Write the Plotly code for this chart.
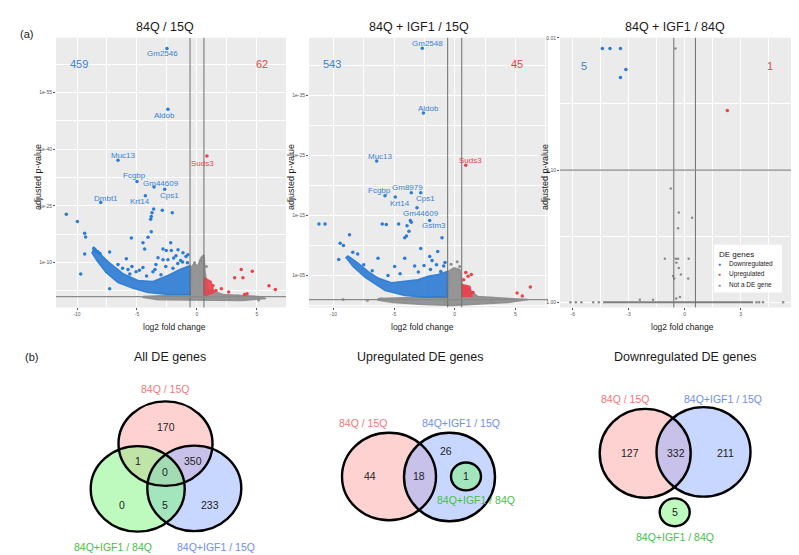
import plotly.graph_objects as go

FONT = "Liberation Sans, Arial, Helvetica, sans-serif"
BLUE = "#2C7BD4"
RED = "#E8434B"
GRAY = "#8C8C8C"
LBL_BLUE = "#3A82D6"

# ---------------- volcano data ----------------
panel_titles = ["84Q / 15Q", "84Q + IGF1 / 15Q", "84Q + IGF1 / 84Q"]
n_down = [459, 543, 5]
n_up = [62, 45, 1]
log2fc_cutoffs = [-0.58, 0.58]
nlp_cutoff = 1.0  # -log10(padj) = 1  ->  padj = 0.1

# Panel 1 (84Q / 15Q) labelled genes: log2 fold change, -log10 adjusted p
p1_genes = ["Gm2546", "Aldob", "Muc13", "Suds3", "Fcgbp", "Gm44609", "Cps1", "Krt14", "Dmbt1"]
p1_gene_lfc = [-2.5, -2.42, -6.58, 0.83, -5.0, -3.58, -2.69, -4.3, -8.02]
p1_gene_nlp = [66.7, 50.6, 37.1, 38.2, 31.5, 30.0, 29.4, 27.7, 25.9]
p1_gene_dir = ["down", "down", "down", "up", "down", "down", "down", "down", "down"]

p1_down = [(-10.89, 22.8), (-9.97, 20.9), (-9.36, 17.8), (-9.28, 16.8), (-9.36, 12.3), (-9.69, 7.0),
           (-7.28, 12.8), (-8.48, 13.4), (-8.25, 12.9), (-8.08, 12.4), (-8.4, 13.0), (-8.6, 13.8),
           (-5.89, 11.0), (-5.47, 16.5), (-4.5, 15.3), (-4.08, 16.7), (-4.36, 13.6), (-3.75, 23.2),
           (-3.81, 22.2), (-3.86, 21.5), (-3.61, 24.2), (-2.89, 23.9), (-2.06, 23.2), (-3.81, 18.2),
           (-2.19, 15.3), (-2.83, 13.6), (-2.56, 13.2), (-2.14, 13.2), (-1.94, 11.2), (-1.36, 10.6),
           (-5.42, 9.0), (-7.28, 3.1), (-6.58, 9.5), (-5.08, 7.6), (-4.5, 8.7), (-3.42, 9.5),
           (-2.83, 10.8), (-1.75, 11.8), (-1.17, 12.6), (-0.92, 11.6), (-3.67, 7.6), (-5.75, 8.2),
           (-2.42, 10.8), (-3.25, 11.3), (-1.58, 13.4), (-0.75, 12.1), (-6.2, 8.5), (-5.6, 7.0),
           (-4.8, 8.0), (-4.2, 6.5), (-3.5, 8.2), (-3.0, 6.8), (-2.6, 9.0), (-2.0, 8.5),
           (-1.6, 9.8), (-1.2, 10.2), (-0.8, 10.0)]
p1_up = [(3.69, 8.2), (4.61, 7.7), (3.83, 6.0), (3.14, 6.0), (6.0, 3.9), (6.53, 2.9), (2.03, 3.1),
         (2.64, 2.2), (3.97, 1.6), (4.17, 1.8), (1.58, 2.6), (1.33, 3.9)]
p1_ns = [(0.78, 9.0), (5.14, 0.1), (3.42, 1.2), (0.3, 10.5), (-0.2, 10.0)]
# dense point clouds (outline of the overplotted region)
p1_ns_cloud = [(-4.5, 1.05), (-2.42, 1.3), (-0.58, 1.6), (-0.5, 8.7), (-0.25, 9.7), (0.08, 9.2),
               (0.33, 11.3), (0.58, 12.1), (0.67, 7.6), (0.92, 2.9), (2.17, 1.6), (5.08, 1.05),
               (5.75, 0.5), (3.83, 0.0), (1.75, 0.0), (0.08, 0.0), (-1.58, 0.0), (-3.25, 0.2),
               (-4.5, 0.8)]
p1_down_cloud = [(-8.58, 13.9), (-7.42, 10.3), (-6.17, 7.1), (-4.92, 5.3), (-3.67, 5.0), (-2.42, 6.6),
                 (-1.42, 8.2), (-0.58, 9.2), (-0.58, 1.6), (-2.42, 1.6), (-4.08, 2.1), (-5.33, 3.2),
                 (-6.58, 4.7), (-7.58, 7.4), (-8.33, 10.5), (-8.75, 12.6)]
p1_up_cloud = [(0.58, 6.05), (1.17, 5.0), (1.42, 2.1), (0.75, 1.3), (0.58, 1.6)]

# Panel 2 (84Q + IGF1 / 15Q)
p2_genes = ["Gm2548", "Aldob", "Muc13", "Suds3", "Gm8979", "Fcgbp", "Cps1", "Krt14", "Gm44609", "Gstm3"]
p2_gene_lfc = [-2.67, -2.58, -6.43, 0.91, -3.58, -5.75, -2.8, -4.9, -3.11, -2.06]
p2_gene_nlp = [42.9, 32.1, 24.1, 23.4, 18.8, 18.3, 18.8, 18.1, 16.3, 14.2]
p2_gene_dir = ["down", "down", "down", "up", "down", "down", "down", "down", "down", "down"]

p2_down = [(-11.19, 13.6), (-10.69, 13.6), (-5.97, 13.6), (-5.64, 13.5), (-4.62, 13.6), (-3.93, 13.3),
           (-3.66, 14.2), (-3.58, 13.9), (-3.77, 12.4), (-4.12, 11.3), (-3.98, 11.6), (-8.67, 11.8),
           (-9.44, 10.4), (-9.17, 10.0), (-9.56, 7.7), (-1.05, 11.3), (-6.32, 7.9), (-4.12, 7.9),
           (-2.06, 8.2), (-1.87, 7.5), (-2.53, 6.7), (-0.91, 6.6), (-1.15, 5.7), (-4.95, 6.5),
           (-3.3, 6.6), (-7.5, 6.8), (-6.8, 5.8), (-5.5, 5.0), (-4.5, 5.3), (-3.0, 5.6), (-2.0, 6.0),
           (-1.5, 6.8), (-0.8, 7.2), (-8.0, 8.6), (-8.4, 8.9), (-2.8, 9.5), (-1.4, 9.0)]
p2_up = [(0.91, 5.5), (1.1, 4.9), (1.37, 5.2), (0.74, 4.3), (0.91, 3.0), (0.68, 3.0), (1.1, 2.7),
         (0.82, 2.1), (1.51, 2.2), (5.14, 2.1), (6.23, 3.1), (5.57, 1.6)]
p2_ns = [(0.41, 6.5), (-6.05, 1.1), (-9.2, 1.0), (0.2, 7.3), (-0.3, 6.9), (-7.2, 0.9), (3.0, 1.0)]
p2_ns_cloud = [(-6.32, 1.2), (-3.85, 1.35), (-0.63, 1.5), (-0.55, 5.7), (-0.06, 6.3), (0.44, 6.0),
               (0.6, 3.5), (1.92, 1.5), (4.39, 1.2), (6.04, 1.0), (4.39, 0.5), (1.92, 0.2),
               (-0.14, 0.0), (-2.61, 0.2), (-5.09, 0.5), (-6.32, 0.9)]
p2_down_cloud = [(-8.8, 8.3), (-7.97, 7.1), (-7.15, 5.7), (-6.32, 4.6), (-5.23, 3.8), (-4.12, 4.1),
                 (-3.03, 4.3), (-2.2, 4.9), (-1.38, 5.2), (-0.61, 5.7), (-0.61, 1.4), (-2.47, 1.4),
                 (-4.12, 1.7), (-5.73, 2.5), (-7.38, 4.7), (-8.38, 6.5), (-8.96, 8.0)]
p2_up_cloud = [(0.6, 3.5), (1.26, 3.2), (1.43, 1.5), (0.6, 1.5)]

# Panel 3 (84Q + IGF1 / 84Q)
p3_down = [(-4.41, 1.92), (-4.0, 1.92), (-3.44, 1.92), (-3.15, 1.76), (-3.44, 1.70)]
p3_up = [(2.29, 1.45)]
p3_ns = [(-0.49, 1.92), (-0.74, 0.86), (-0.31, 0.68), (0.40, 0.64), (-0.35, 0.56), (-1.06, 0.33),
         (-0.47, 0.33), (-0.35, 0.33), (0.22, 0.33), (-0.44, 0.30), (-0.31, 0.26), (-0.62, 0.20),
         (-0.20, 0.21), (-0.56, 0.18), (0.19, 0.18), (-6.12, 0.0), (-5.83, 0.0), (-5.53, 0.0),
         (-4.90, 0.0), (-4.60, 0.0), (3.85, 0.0), (3.99, 0.0), (4.2, 0.0), (5.28, 0.0),
         (-2.4, 0.02), (-1.69, 0.02), (-0.45, 0.03), (-0.25, 0.04)]
p3_ns_band_lfc = [-4.37, 3.67]   # many overlapping genes with padj = 1
p3_ns_band_nlp = [0.0, 0.0]

# axis ticks
x_ticks = [[-10, -5, 0, 5], [-10, -5, 0, 5], [-6, -3, 0, 3]]
y_tickvals = [[10, 25, 40, 55], [5, 15, 25, 35], [0, 1, 2]]
y_ticktext = [["1e-10", "1e-25", "1e-40", "1e-55"], ["1e-05", "1e-15", "1e-25", "1e-35"],
              ["1.00", "0.10", "0.01"]]

# ---------------- Venn data ----------------
venn_titles = ["All DE genes", "Upregulated DE genes", "Downregulated DE genes"]
set_names = ["84Q / 15Q", "84Q+IGF1 / 15Q", "84Q+IGF1 / 84Q"]
venn_all_counts = [170, 1, 0, 350, 0, 5, 233]
venn_up_counts = [44, 18, 26, 1]
venn_down_counts = [127, 332, 211, 5]

# ---------------- figure ----------------
fig = go.Figure()
axes = [("x", "y"), ("x2", "y2"), ("x3", "y3")]


def xy(pairs):
    return [p[0] for p in pairs], [p[1] for p in pairs]


def add_cloud(pairs, color, xa, ya):
    x, y = xy(pairs)
    fig.add_trace(go.Scatter(x=x + [x[0]], y=y + [y[0]], mode="lines", fill="toself",
                             fillcolor=color, line=dict(color=color, width=1.5),
                             hoverinfo="skip", showlegend=False, xaxis=xa, yaxis=ya))


def add_pts(pairs, color, size, xa, ya):
    x, y = xy(pairs)
    fig.add_trace(go.Scatter(x=x, y=y, mode="markers",
                             marker=dict(color=color, size=size, line=dict(width=0)),
                             showlegend=False, xaxis=xa, yaxis=ya))


# panel 1
add_cloud(p1_ns_cloud, "rgba(140,140,140,0.9)", "x", "y")
add_cloud(p1_down_cloud, "rgba(44,123,212,0.9)", "x", "y")
add_cloud(p1_up_cloud, "rgba(232,67,75,0.9)", "x", "y")
add_pts(p1_ns, GRAY, 3, "x", "y")
add_pts(p1_down, BLUE, 3.5, "x", "y")
add_pts(p1_up, RED, 3.5, "x", "y")
add_pts([(a, b) for a, b, d in zip(p1_gene_lfc, p1_gene_nlp, p1_gene_dir) if d == "down"], BLUE, 3.5, "x", "y")
add_pts([(a, b) for a, b, d in zip(p1_gene_lfc, p1_gene_nlp, p1_gene_dir) if d == "up"], RED, 3.5, "x", "y")

# panel 2
add_cloud(p2_ns_cloud, "rgba(140,140,140,0.9)", "x2", "y2")
add_cloud(p2_down_cloud, "rgba(44,123,212,0.9)", "x2", "y2")
add_cloud(p2_up_cloud, "rgba(232,67,75,0.9)", "x2", "y2")
add_pts(p2_ns, GRAY, 3, "x2", "y2")
add_pts(p2_down, BLUE, 3.5, "x2", "y2")
add_pts(p2_up, RED, 3.5, "x2", "y2")
add_pts([(a, b) for a, b, d in zip(p2_gene_lfc, p2_gene_nlp, p2_gene_dir) if d == "down"], BLUE, 3.5, "x2", "y2")
add_pts([(a, b) for a, b, d in zip(p2_gene_lfc, p2_gene_nlp, p2_gene_dir) if d == "up"], RED, 3.5, "x2", "y2")

# panel 3
fig.add_trace(go.Scatter(x=p3_ns_band_lfc, y=p3_ns_band_nlp, mode="lines",
                         line=dict(color="#808080", width=2), showlegend=False,
                         xaxis="x3", yaxis="y3"))
add_pts(p3_ns, GRAY, 2.5, "x3", "y3")
add_pts(p3_down, BLUE, 3.5, "x3", "y3")
add_pts(p3_up, RED, 3.5, "x3", "y3")

# overlay axis (pixel-like coordinate frame for Venn diagrams and labels)
fig.add_trace(go.Scatter(x=[], y=[], xaxis="x4", yaxis="y4", showlegend=False))

# ---------------- layout ----------------
x_domains = [[48 / 799, 278 / 799], [301 / 799, 540 / 799], [552 / 799, 785 / 799]]
y_domain = [1 - 298 / 555, 1 - 27 / 555]
x_ranges = [[-11.75, 7.42], [-12.01, 7.69], [-6.68, 5.81]]
y_ranges = [[-1.84, 69.5], [-0.3, 44.64], [-0.038, 2.0]]
x_minor = [[-7.5, -2.5, 2.5], [-7.5, -2.5, 2.5, 7.5], [-4.5, -1.5, 1.5, 4.5]]
y_minor = [[2.5, 17.5, 32.5, 47.5, 62.5], [0, 10, 20, 30, 40], [0.5, 1.5]]

tickfont = dict(size=5, color="#555555", family=FONT)
layout_axes = {}
for i, (xa, ya) in enumerate(axes):
    xk = "xaxis" if i == 0 else f"xaxis{i + 1}"
    yk = "yaxis" if i == 0 else f"yaxis{i + 1}"
    layout_axes[xk] = dict(domain=x_domains[i], range=x_ranges[i], anchor=ya, tickvals=x_ticks[i],
                           ticktext=[str(v) for v in x_ticks[i]], showgrid=True, gridcolor="white",
                           gridwidth=1, zeroline=False, showline=False, ticks="outside", ticklen=2,
                           tickwidth=0.6, tickcolor="#555555", tickfont=tickfont, fixedrange=True,
                           minor=dict(tickvals=x_minor[i], showgrid=True, gridcolor="white",
                                      gridwidth=0.5, ticks=""))
    layout_axes[yk] = dict(domain=y_domain, range=y_ranges[i], anchor=xa, tickvals=y_tickvals[i],
                           ticktext=y_ticktext[i], showgrid=True, gridcolor="white", gridwidth=1,
                           zeroline=False, showline=False, ticks="outside", ticklen=2,
                           tickwidth=0.6, tickcolor="#555555", tickfont=tickfont, fixedrange=True,
                           minor=dict(tickvals=y_minor[i], showgrid=True, gridcolor="white",
                                      gridwidth=0.5, ticks=""))
layout_axes["xaxis4"] = dict(domain=[0, 1], range=[0, 799], anchor="y4", visible=False, fixedrange=True)
layout_axes["yaxis4"] = dict(domain=[0, 1], range=[555, 0], anchor="x4", visible=False, fixedrange=True)

shapes = []
for i, (xa, ya) in enumerate(axes):
    shapes.append(dict(type="rect", xref=f"{xa} domain", yref=f"{ya} domain", x0=0, x1=1, y0=0, y1=1,
                       fillcolor="#EBEBEB", line=dict(width=0), layer="below"))
    for c in log2fc_cutoffs:
        shapes.append(dict(type="line", xref=xa, yref=f"{ya} domain", x0=c, x1=c, y0=0, y1=1,
                           line=dict(color="#6E6E6E", width=1)))
    shapes.append(dict(type="line", xref=f"{xa} domain", yref=ya, x0=0, x1=1, y0=nlp_cutoff,
                       y1=nlp_cutoff, line=dict(color="#8A8A8A", width=1.2)))

annotations = []


def ann(x, y, text, size, color="#1A1A1A", xref="x4", yref="y4", **kw):
    d = dict(x=x, y=y, text=text, xref=xref, yref=yref, showarrow=False,
             font=dict(size=size, color=color, family=FONT))
    d.update(kw)
    annotations.append(d)


# panel titles & axis titles
title_pos = [(157, 16), (411, 16), (667, 16)]
ylab_x = [30, 283, 537]
xlab_x = [166, 414, 674]
for i in range(3):
    ann(title_pos[i][0], title_pos[i][1], panel_titles[i], 12.5)
    ann(ylab_x[i], 167, "adjusted p-value", 9, textangle=-90)
    ann(xlab_x[i], 318, "log2 fold change", 8.5)
ann(18, 23, "(a)", 11)
ann(23, 348, "(b)", 11)

# DE counts
count_pos_down = [(-9.86, 62.5), (-10.12, 40.3), (-5.4, 1.79)]
count_pos_up = [(5.44, 62.5), (5.16, 40.3), (4.6, 1.79)]
for i, (xa, ya) in enumerate(axes):
    ann(count_pos_down[i][0], count_pos_down[i][1], str(n_down[i]), 11, LBL_BLUE, xref=xa, yref=ya)
    ann(count_pos_up[i][0], count_pos_up[i][1], str(n_up[i]), 11, RED, xref=xa, yref=ya)

# gene labels
p1_label_shift = [(-4, -5), (-3, -6), (5, 5), (-4, -7), (-2, 6), (7, 4), (5, -6), (-5, -6), (5, 4)]
p2_label_shift = [(5, 5), (5, 5), (4, 5), (5, 5), (-4, 5), (-5, 5), (5, -6), (5, -6), (4, -6), (4, -5)]
for g, a, b, d, s in zip(p1_genes, p1_gene_lfc, p1_gene_nlp, p1_gene_dir, p1_label_shift):
    ann(a, b, g, 8, LBL_BLUE if d == "down" else RED, xref="x", yref="y", xshift=s[0], yshift=s[1])
for g, a, b, d, s in zip(p2_genes, p2_gene_lfc, p2_gene_nlp, p2_gene_dir, p2_label_shift):
    ann(a, b, g, 8, LBL_BLUE if d == "down" else RED, xref="x2", yref="y2", xshift=s[0], yshift=s[1])

# legend (panel 3)
shapes.append(dict(type="rect", xref="x4", yref="y4", x0=706, x1=774, y0=235, y1=283,
                   fillcolor="white", line=dict(width=0)))
ann(709, 245, "DE genes", 8, xanchor="left")
legend_items = [("Downregulated", BLUE), ("Upregulated", RED), ("Not a DE gene", GRAY)]
for k, (lab, col) in enumerate(legend_items):
    yy = 254 + k * 10.5
    ann(711, yy, "●", 5, col)
    ann(719, yy, lab, 6.5, xanchor="left")

# ---------------- Venn diagrams ----------------
PINK_F = "rgba(255,165,165,0.5)"
BLUE_F = "rgba(145,175,255,0.5)"
GREEN_F = "rgba(125,245,125,0.5)"
PINK_T = "#F2777A"
BLUE_T = "#6F8EF0"
GREEN_T = "#45BF45"

# (cx, cy, rx, ry, fill) in the pixel frame, drawn in order pink, blue, green
venn_circles = [
    [(157.5, 435, 47, 42.5, PINK_F), (186.3, 480, 47, 43, BLUE_F), (129.7, 480.5, 47, 43, GREEN_F)],
    [(381, 468, 47, 44, PINK_F), (441.5, 468.5, 45.5, 44.5, BLUE_F), (458, 468, 15, 14, GREEN_F)],
    [(637.2, 444.7, 45.5, 44.7, PINK_F), (695.5, 443.3, 47, 45, BLUE_F), (666.7, 504, 15, 14, GREEN_F)],
]
for group in venn_circles:
    for cx, cy, rx, ry, f in group:
        shapes.append(dict(type="circle", xref="x4", yref="y4", x0=cx - rx, x1=cx + rx,
                           y0=cy - ry, y1=cy + ry, fillcolor=f, line=dict(width=0)))
for group in venn_circles:
    for cx, cy, rx, ry, f in group:
        shapes.append(dict(type="circle", xref="x4", yref="y4", x0=cx - rx, x1=cx + rx,
                           y0=cy - ry, y1=cy + ry, fillcolor="rgba(0,0,0,0)",
                           line=dict(color="black", width=2.4)))

venn_title_pos = [(162, 348), (412, 348), (677, 348)]
for t, p in zip(venn_titles, venn_title_pos):
    ann(p[0], p[1], t, 12.5)

# set name labels: (pink, blue, green) positions per diagram
venn_label_pos = [
    [(157, 380), (208, 539), (105, 539)],
    [(355, 414), (453, 414), (468, 492)],
    [(617, 390), (715, 390), (667, 529)],
]
for pos in venn_label_pos:
    for (px, py), name, col in zip(pos, set_names[:1] + set_names[1:2] + set_names[2:], [PINK_T, BLUE_T, GREEN_T]):
        ann(px, py, name, 10.5, col)

venn_all_pos = [(158, 418), (130, 452), (157, 464), (185, 452), (114, 497), (157, 497), (202, 497)]
venn_up_pos = [(362, 468), (411, 468), (438, 442), (458, 468)]
venn_down_pos = [(622, 444), (668, 444), (717, 444), (667, 504)]
for counts, pos in [(venn_all_counts, venn_all_pos), (venn_up_counts, venn_up_pos),
                    (venn_down_counts, venn_down_pos)]:
    for c, (px, py) in zip(counts, pos):
        ann(px, py, str(c), 10.5, "#222222")

fig.update_layout(
    width=799, height=555,
    margin=dict(l=0, r=0, t=0, b=0),
    paper_bgcolor="white", plot_bgcolor="rgba(0,0,0,0)",
    showlegend=False,
    font=dict(family=FONT),
    shapes=shapes, annotations=annotations,
    **layout_axes,
)

fig.write_html("out.html")
